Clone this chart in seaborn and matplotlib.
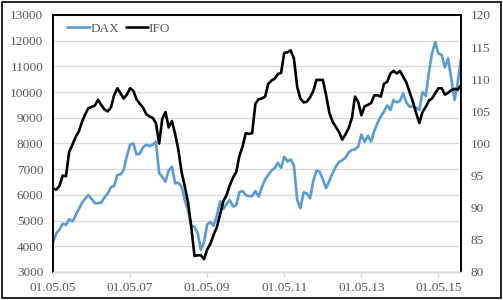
import matplotlib
matplotlib.use("Agg")
import matplotlib.pyplot as plt
import matplotlib.dates as mdates
from matplotlib.patches import Rectangle
import seaborn as sns
import pandas as pd

# monthly values, May 2005 - Dec 2015
start_month = "2005-05-01"
dax = [4150, 4500, 4650, 4880, 4830, 5050, 4960, 5200, 5450, 5700, 5850, 5990,
       5850, 5680, 5680, 5700, 5900, 6050, 6300, 6350, 6780, 6800, 6960, 7500,
       7950, 8000, 7580, 7600, 7850, 7950, 7900, 7950, 8070, 6850, 6700, 6520,
       6950, 7100, 6450, 6470, 6320, 5800, 5400, 4800, 4760, 4500, 3870, 4150,
       4850, 4950, 4800, 5200, 5750, 5450, 5650, 5800, 5550, 5600, 6100, 6150,
       6000, 5950, 5950, 6150, 5930, 6300, 6600, 6780, 6950, 7050, 7250, 7050,
       7480, 7300, 7380, 7150, 5800, 5480, 6100, 6060, 5870, 6550, 6950, 6900,
       6600, 6260, 6550, 6840, 7100, 7280, 7350, 7450, 7650, 7750, 7770, 7880,
       8350, 8060, 8300, 8070, 8500, 8800, 9050, 9250, 9480, 9300, 9690, 9600,
       9650, 9950, 9600, 9430, 9450, 9400, 9300, 10000, 9850, 10800, 11500, 11950,
       11500, 11440, 10960, 11310, 10500, 9690, 10400, 11320]
ifo = [93.0, 92.8, 93.4, 95.0, 94.9, 98.7, 99.8, 101.0, 101.9, 103.4, 104.5, 105.5,
       105.7, 105.9, 106.8, 106.0, 105.3, 105.0, 105.6, 107.5, 108.6, 107.8, 107.0, 107.6,
       108.6, 108.2, 106.9, 106.2, 105.6, 104.6, 104.2, 104.0, 103.2, 100.0, 103.8, 104.9,
       102.5, 103.5, 101.5, 99.0, 95.5, 93.3, 90.8, 87.0, 82.5, 82.6, 82.6, 82.0,
       83.5, 84.4, 85.8, 87.0, 89.0, 91.0, 92.0, 93.5, 94.7, 95.6, 98.0, 99.5,
       101.6, 101.5, 101.6, 106.2, 106.9, 107.0, 107.3, 109.3, 109.8, 110.1, 110.8, 111.0,
       114.1, 114.2, 114.5, 113.2, 108.8, 107.0, 106.4, 106.5, 107.2, 108.2, 109.9, 109.9,
       109.9, 107.5, 104.8, 103.4, 102.6, 101.8, 100.6, 101.4, 102.4, 104.0, 107.3, 106.5,
       104.4, 105.8, 106.0, 106.3, 107.5, 107.5, 107.3, 109.3, 109.6, 110.9, 111.3, 110.9,
       111.3, 110.4, 109.5, 108.0, 106.5, 104.8, 103.2, 104.9, 105.7, 106.7, 107.0, 107.8,
       108.6, 108.6, 107.6, 107.9, 108.3, 108.5, 108.4, 109.1]
tick_dates = ["2005-05-01", "2007-05-01", "2009-05-01", "2011-05-01",
              "2013-05-01", "2015-05-01"]

df = pd.DataFrame({"date": pd.date_range(start_month, periods=len(dax), freq="MS"),
                   "DAX": dax, "IFO": ifo})

sns.set_style("white")
plt.rcParams["font.family"] = ["Liberation Serif", "DejaVu Serif"]
txt = "#595959"
grid = "#d9d9d9"

fig = plt.figure(figsize=(5.03, 3.0), dpi=100)
ax = fig.add_axes([53 / 503, 1 - 272 / 300, 408 / 503, 257 / 300])
ax2 = ax.twinx()

sns.lineplot(data=df, x="date", y="DAX", ax=ax, color="#5b9bd5", linewidth=1.9, label="DAX", legend=False)
sns.lineplot(data=df, x="date", y="IFO", ax=ax2, color="black", linewidth=1.9, label="IFO", legend=False)

ax.set_ylim(3000, 13000)
ax.set_yticks(range(3000, 13001, 1000))
ax2.set_ylim(80, 120)
ax2.set_yticks(range(80, 121, 5))
ax.set_xlim(df["date"].iloc[0], df["date"].iloc[-1])
ax.set_xticks(pd.to_datetime(tick_dates))
ax.xaxis.set_major_formatter(mdates.DateFormatter("%d.%m.%y"))

ax.grid(axis="y", color=grid, linewidth=1.0)
ax.set_axisbelow(True)
ax.set_xlabel("")
ax.set_ylabel("")
ax2.set_ylabel("")

for a in (ax, ax2):
    for side in ("top", "left", "right"):
        a.spines[side].set_color("black")
        a.spines[side].set_linewidth(1.2)
    a.spines["bottom"].set_color(grid)
    a.spines["bottom"].set_linewidth(1.0)

ax.tick_params(axis="x", colors=grid, labelcolor=txt, length=3.5, width=1, pad=4, labelsize=9.5, bottom=True)
ax.tick_params(axis="y", length=0, pad=7, labelcolor=txt, labelsize=9.5)
ax2.tick_params(axis="y", length=0, pad=7, labelcolor=txt, labelsize=9.5)

h1, l1 = ax.get_legend_handles_labels()
h2, l2 = ax2.get_legend_handles_labels()
ax2.legend(h1 + h2, l1 + l2, loc="upper left", bbox_to_anchor=(0.035, 0.97), ncol=2,
           frameon=False, fontsize=9.5, handlelength=1.7, handletextpad=0.05,
           columnspacing=0.5, borderpad=0, borderaxespad=0, labelcolor=txt)

fig.patches.append(Rectangle((0.004, 0.008), 0.992, 0.985, transform=fig.transFigure,
                             fill=False, edgecolor="black", linewidth=1.2))

fig.savefig("out.png", dpi=100)
